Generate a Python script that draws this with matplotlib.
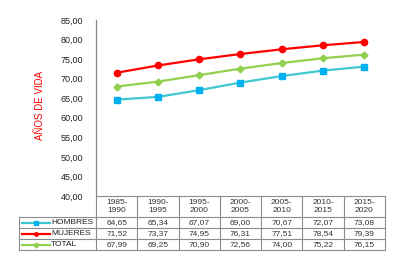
import matplotlib.pyplot as plt
from matplotlib.lines import Line2D

plt.rcParams['font.family'] = ['Liberation Sans', 'DejaVu Sans']

periodos = ['1985-\n1990', '1990-\n1995', '1995-\n2000', '2000-\n2005',
            '2005-\n2010', '2010-\n2015', '2015-\n2020']
hombres = [64.65, 65.34, 67.07, 69.00, 70.67, 72.07, 73.08]
mujeres = [71.52, 73.37, 74.95, 76.31, 77.51, 78.54, 79.39]
total = [67.99, 69.25, 70.90, 72.56, 74.00, 75.22, 76.15]
nombres = ['HOMBRES', 'MUJERES', 'TOTAL']
yticks = [40, 45, 50, 55, 60, 65, 70, 75, 80, 85]

W, H = 402, 267
fig = plt.figure(figsize=(W / 100, H / 100), dpi=100)

# ejes de la tabla en pixeles
tax = fig.add_axes([0, 0, 1, 1], zorder=0)
tax.set_xlim(0, W)
tax.set_ylim(H, 0)
tax.axis('off')

ax = fig.add_axes([96 / W, (H - 196) / H, (385 - 96) / W, (196 - 20) / H], zorder=1)
ax.patch.set_alpha(0)

estilos = [
    dict(color='#40C8D0', marker='s', mfc='#00B0F0', mec='#00B0F0', ms=4.5),
    dict(color='#FF0000', marker='o', mfc='#FF0000', mec='#FF0000', ms=4.5),
    dict(color='#92D050', marker='D', mfc='#92D050', mec='#92D050', ms=3.5),
]
series = [hombres, mujeres, total]
x = list(range(len(periodos)))
for s, st in zip(series, estilos):
    ax.plot(x, s, lw=1.6, **st)

ax.set_xlim(-0.5, len(periodos) - 0.5)
ax.set_ylim(40, 85)
ax.set_yticks(yticks)
ax.set_yticklabels([f'{v:.2f}'.replace('.', ',') for v in yticks])
ax.tick_params(axis='y', length=0, pad=9, labelsize=6.5, colors='#222222')
ax.set_xticks([])
for sp in ['top', 'right', 'bottom']:
    ax.spines[sp].set_visible(False)
ax.spines['left'].set_color('#888888')
ax.spines['left'].set_linewidth(0.9)

fig.text(40 / W, 1 - 105 / H, 'AÑOS DE VIDA', rotation=90, color='#FF0000',
         fontsize=7, ha='center', va='center')

# tabla de datos
x0, x1, xl = 96, 385, 19
cw = (x1 - x0) / len(periodos)
ys = [196, 217, 228, 239, 250]
gris = '#8C8C8C'
kw = dict(color=gris, lw=0.8)
tax.plot([x0, x1], [ys[0], ys[0]], **kw)
for yy in ys[1:]:
    tax.plot([xl, x1], [yy, yy], **kw)
tax.plot([xl, xl], [ys[1], ys[-1]], **kw)
for i in range(len(periodos) + 1):
    tax.plot([x0 + i * cw] * 2, [ys[0], ys[-1]], **kw)

for i, p in enumerate(periodos):
    tax.text(x0 + (i + 0.5) * cw, (ys[0] + ys[1]) / 2, p, ha='center', va='center',
             fontsize=6, color='#333333', linespacing=1.1)
for j, s in enumerate(series):
    yc = (ys[j + 1] + ys[j + 2]) / 2
    for i, v in enumerate(s):
        tax.text(x0 + (i + 0.5) * cw, yc, f'{v:.2f}'.replace('.', ','), ha='center',
                 va='center', fontsize=6, color='#333333')
    st = estilos[j]
    tax.plot([22, 50], [yc, yc], lw=1.6, color=st['color'])
    tax.plot([36], [yc], marker=st['marker'], mfc=st['mfc'], mec=st['mec'], ms=2.5, lw=0)
    tax.text(51, yc, nombres[j], ha='left', va='center', fontsize=6, color='#222222')

fig.savefig('out.png', dpi=100)
